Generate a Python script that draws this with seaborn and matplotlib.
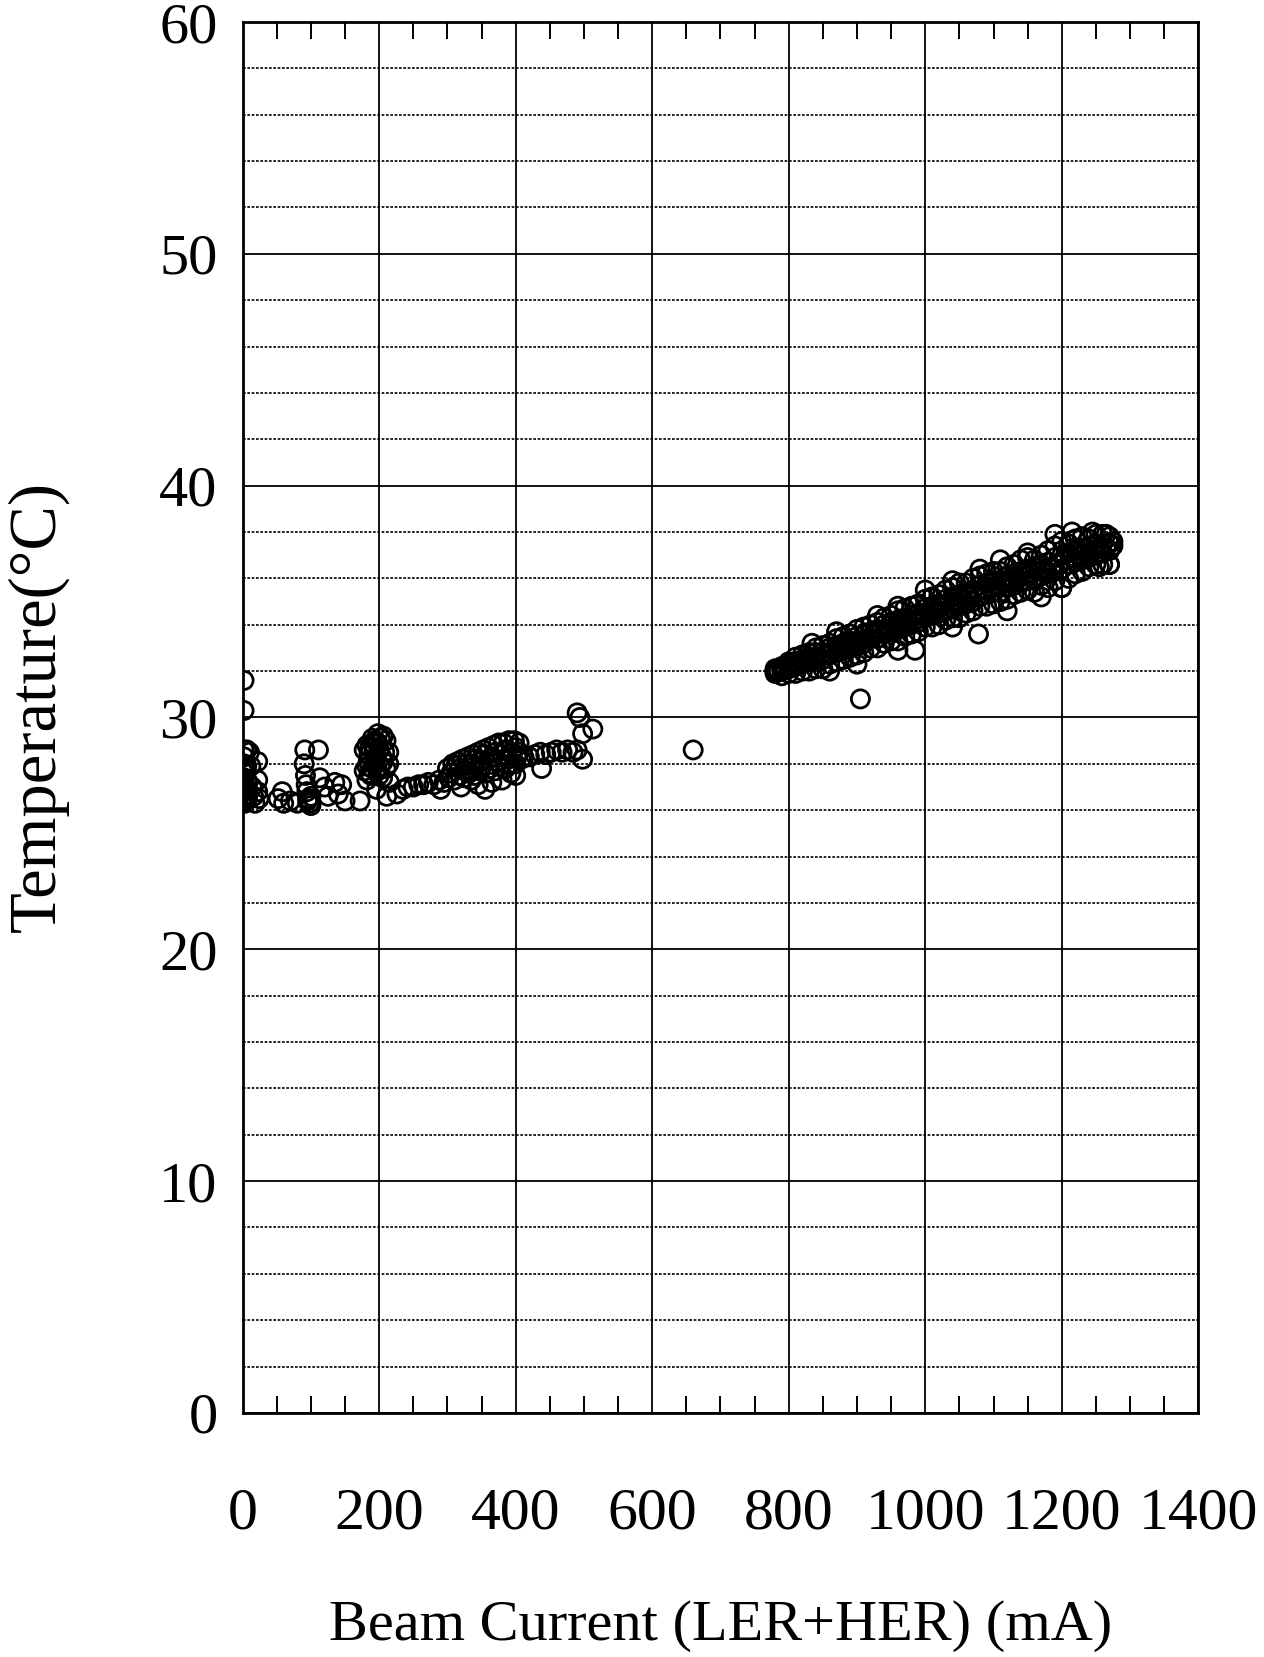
import numpy as np
import matplotlib
matplotlib.use("Agg")
import matplotlib.pyplot as plt
from matplotlib.ticker import FixedLocator, MultipleLocator
import seaborn as sns

# -----------------------
# Data
# -----------------------
# low-current cluster (0 - 180 mA)
low_x = [2, 2, 2, 2, 2, 2, 2, 2, 2, 2, 6, 6, 6, 6, 6, 6, 4, 4, 8, 8, 3, 5, 7, 3,
         10, 12, 14, 16, 18, 22, 22, 22, 24,
         52, 58, 60, 70, 80,
         90, 92, 93, 94, 96, 98, 100, 95, 100, 91, 111,
         113, 120, 125, 135, 140, 145, 150, 172]
low_y = [31.6, 30.3, 28.6, 28.3, 28.0, 27.7, 27.4, 27.1, 26.8, 26.5, 28.6, 27.9, 27.3, 26.9, 26.6, 26.4, 27.6, 27.0, 27.2, 26.7, 26.3, 26.9, 26.5, 27.9,
         28.5, 27.9, 27.0, 26.6, 26.3, 28.1, 27.3, 26.8, 26.5,
         26.5, 26.8, 26.3, 26.4, 26.3,
         28.0, 27.5, 27.1, 26.8, 26.5, 26.3, 26.2, 26.4, 26.6, 28.6, 28.6,
         27.4, 27.0, 26.6, 27.2, 26.7, 27.1, 26.4, 26.4]

# blob around 200 mA
blob_x = [178, 182, 186, 190, 194, 198, 202, 206, 210, 200, 192, 185,
          178, 182, 186, 190, 194, 198, 202, 206, 210, 214, 188, 200, 214, 208,
          184, 196, 204, 190, 198,
          182, 196, 205, 211, 226, 215]
blob_y = [28.6, 28.8, 28.7, 28.9, 29.0, 28.9, 29.1, 29.2, 29.0, 28.6, 28.5, 28.4,
          27.7, 27.9, 27.6, 27.8, 28.0, 27.7, 27.9, 28.1, 27.8, 28.0, 27.5, 27.5, 28.5, 28.5,
          28.1, 28.3, 28.3, 29.1, 29.3,
          27.3, 26.9, 27.4, 26.6, 26.7, 27.2]

# rising band 230 - 520 mA
mid_x = [235, 242, 250, 258, 265, 272, 280, 288, 295, 302, 310, 318, 325, 332, 340, 348, 355, 362,
         370, 378, 385, 392, 400, 408,
         300, 308, 315, 322, 330, 338, 345, 352, 360, 368, 375, 382, 390, 398, 405,
         312, 335, 350, 365, 380, 395, 405, 360, 340,
         305, 318, 328, 342, 355, 370, 385, 400, 325, 350, 372, 388, 402,
         290, 320, 345, 365, 380, 400, 355, 335, 393,
         412, 420, 428, 436, 444, 452, 460, 468, 476, 484, 490, 438, 498,
         490, 494, 498, 513, 660]
mid_y = [26.9, 27.0, 27.0, 27.1, 27.1, 27.2, 27.1, 27.3, 27.2, 27.4, 27.3, 27.5, 27.4, 27.6, 27.5, 27.7, 27.6, 27.8,
         27.7, 27.9, 27.8, 28.0, 28.0, 28.2,
         27.8, 28.0, 28.1, 28.2, 28.3, 28.4, 28.5, 28.6, 28.7, 28.8, 28.9, 28.9, 29.0, 29.0, 28.9,
         27.9, 28.0, 28.1, 28.3, 28.4, 28.5, 28.5, 28.2, 27.9,
         27.6, 27.8, 28.0, 28.2, 28.4, 28.5, 28.6, 28.7, 27.7, 27.9, 28.1, 28.2, 28.3,
         26.9, 27.0, 27.1, 27.2, 27.3, 27.5, 26.9, 27.3, 27.6,
         28.3, 28.3, 28.4, 28.5, 28.4, 28.5, 28.6, 28.5, 28.6, 28.5, 28.6, 27.8, 28.2,
         30.2, 30.0, 29.3, 29.5, 28.6]

# high-current band 780 - 1275 mA
band_x = [780, 790, 800, 810, 820, 830, 840, 850, 860, 870,
          880, 890, 900, 910, 920, 930, 940, 950, 960, 970,
          980, 990, 1000, 1010, 1020, 1030, 1040, 1050, 1060, 1070,
          1080, 1090, 1100, 1110, 1120, 1130, 1140, 1150, 1160, 1170,
          1180, 1190, 1200, 1210, 1220, 1230, 1240, 1250, 1260, 1270]
band_lo = [31.9, 31.8, 31.9, 31.9, 32.0, 32.0, 32.1, 32.1, 32.3, 32.4,
           32.5, 32.6, 32.7, 32.8, 33.0, 33.0, 33.2, 33.3, 33.3, 33.5,
           33.6, 33.7, 33.9, 33.9, 34.0, 34.2, 34.3, 34.3, 34.5, 34.6,
           34.8, 34.8, 34.9, 35.0, 35.1, 35.3, 35.4, 35.5, 35.4, 35.7,
           35.6, 35.9, 35.6, 36.0, 36.2, 36.3, 36.5, 36.6, 36.6, 36.6]
band_m1 = [32.0, 32.0, 32.1, 32.2, 32.3, 32.4, 32.5, 32.5, 32.7, 32.8,
           32.9, 33.0, 33.1, 33.2, 33.4, 33.4, 33.6, 33.7, 33.8, 33.9,
           34.0, 34.1, 34.3, 34.4, 34.5, 34.6, 34.7, 34.8, 34.9, 35.0,
           35.2, 35.3, 35.4, 35.4, 35.6, 35.7, 35.8, 35.9, 36.0, 36.1,
           36.2, 36.4, 36.4, 36.6, 36.7, 36.8, 36.9, 37.0, 37.1, 37.2]
band_m2 = [32.0, 32.1, 32.3, 32.4, 32.5, 32.6, 32.8, 32.8, 33.0, 33.1,
           33.2, 33.3, 33.5, 33.6, 33.7, 33.8, 34.0, 34.1, 34.2, 34.3,
           34.4, 34.5, 34.7, 34.8, 34.9, 35.1, 35.2, 35.3, 35.4, 35.5,
           35.7, 35.8, 35.9, 35.9, 36.1, 36.2, 36.3, 36.4, 36.5, 36.6,
           36.7, 36.9, 37.0, 37.1, 37.2, 37.3, 37.4, 37.5, 37.5, 37.5]
band_hi = [32.1, 32.2, 32.4, 32.6, 32.7, 32.8, 33.0, 33.1, 33.2, 33.4,
           33.5, 33.6, 33.8, 33.9, 34.0, 34.1, 34.3, 34.4, 34.6, 34.7,
           34.8, 34.9, 35.1, 35.2, 35.3, 35.5, 35.6, 35.8, 35.8, 36.0,
           36.1, 36.2, 36.3, 36.3, 36.5, 36.6, 36.8, 36.9, 36.8, 37.0,
           37.2, 37.4, 37.6, 37.5, 37.7, 37.8, 37.7, 37.9, 37.9, 37.8]
# in-between column of the band
band_x2 = [785, 795, 805, 815, 825, 835, 845, 855, 865, 875,
           885, 895, 905, 915, 925, 935, 945, 955, 965, 975,
           985, 995, 1005, 1015, 1025, 1035, 1045, 1055, 1065, 1075,
           1085, 1095, 1105, 1115, 1125, 1135, 1145, 1155, 1165, 1175,
           1185, 1195, 1205, 1215, 1225, 1235, 1245, 1255, 1265, 1275]
band_c = [32.0, 32.1, 32.2, 32.3, 32.4, 32.5, 32.6, 32.7, 32.9, 33.0,
          33.1, 33.2, 33.3, 33.4, 33.6, 33.7, 33.8, 33.9, 34.0, 34.1,
          34.2, 34.4, 34.5, 34.6, 34.8, 34.9, 35.0, 35.1, 35.2, 35.4,
          35.5, 35.6, 35.7, 35.8, 35.9, 36.0, 36.1, 36.2, 36.3, 36.4,
          36.5, 36.6, 36.8, 36.9, 37.0, 37.1, 37.2, 37.3, 37.3, 37.4]

# scattered open circles around the high band
extra_x = [834, 870, 930, 960, 1000, 1040, 1080, 1110, 1150, 1190, 1215, 1245, 1265, 1275, 1270, 1255,
           860, 900, 960, 1040, 1120, 1170, 1200, 905, 985, 1078]
extra_y = [33.2, 33.7, 34.4, 34.8, 35.5, 35.9, 36.4, 36.8, 37.1, 37.9, 38.0, 38.0, 37.9, 37.6, 36.6, 36.5,
           32.0, 32.3, 32.9, 33.9, 34.6, 35.2, 35.6, 30.8, 32.9, 33.6]

x_ticks = [0, 200, 400, 600, 800, 1000, 1200, 1400]
y_ticks = [0, 10, 20, 30, 40, 50, 60]

# -----------------------
# Plot
# -----------------------
sns.set_theme(style="white")
plt.rcParams["font.family"] = ["Liberation Serif", "DejaVu Serif"]
plt.rcParams["text.color"] = "black"
plt.rcParams["axes.labelcolor"] = "black"
plt.rcParams["xtick.color"] = "black"
plt.rcParams["ytick.color"] = "black"

fig = plt.figure(figsize=(12.64, 16.57), dpi=100)
ax = fig.add_axes([0.192, 0.1473, 0.756, 0.8394])

xs = low_x + blob_x + mid_x + band_x * 4 + band_x2 + extra_x
ys = low_y + blob_y + mid_y + band_lo + band_m1 + band_m2 + band_hi + band_c + extra_y
sns.scatterplot(x=xs, y=ys, ax=ax, marker="o", s=170, color="black",
                facecolor="none", edgecolor="black", linewidth=2.0, zorder=3)

ax.set_xlim(0, 1400)
ax.set_ylim(0, 60)
ax.set_xticks(x_ticks)
ax.set_yticks(y_ticks)
ax.yaxis.set_minor_locator(MultipleLocator(2))
# minor x ticks every 50 mA, skipping the gridline positions
ax.xaxis.set_minor_locator(FixedLocator([v for v in range(50, 1400, 50) if v % 200 != 0]))

# grid: solid majors, dotted 2-degree lines
ax.grid(which="major", axis="both", color="black", linewidth=1.3, linestyle="-")
ax.grid(which="minor", axis="y", color="black", linewidth=1.2, linestyle=(0, (1.6, 1.0)))
ax.set_axisbelow(True)

ax.tick_params(axis="x", which="major", length=0, pad=54, labelsize=43, labelcolor="black")
ax.tick_params(axis="x", which="minor", direction="in", length=12, width=1.4,
               top=True, bottom=True, color="black")
ax.tick_params(axis="y", which="both", length=0, pad=18, labelsize=42, labelcolor="black")

for sp in ax.spines.values():
    sp.set_color("black")
    sp.set_linewidth(2.0)

ax.set_xlabel("Beam Current (LER+HER) (mA)", fontsize=42, va="center", color="black")
ax.xaxis.set_label_coords(0.5, -0.153)
ax.set_ylabel("Temperature(°C)", fontsize=48, va="center", color="black")
ax.yaxis.set_label_coords(-0.214, 0.508)

fig.savefig("out.png", dpi=100, facecolor="white")
